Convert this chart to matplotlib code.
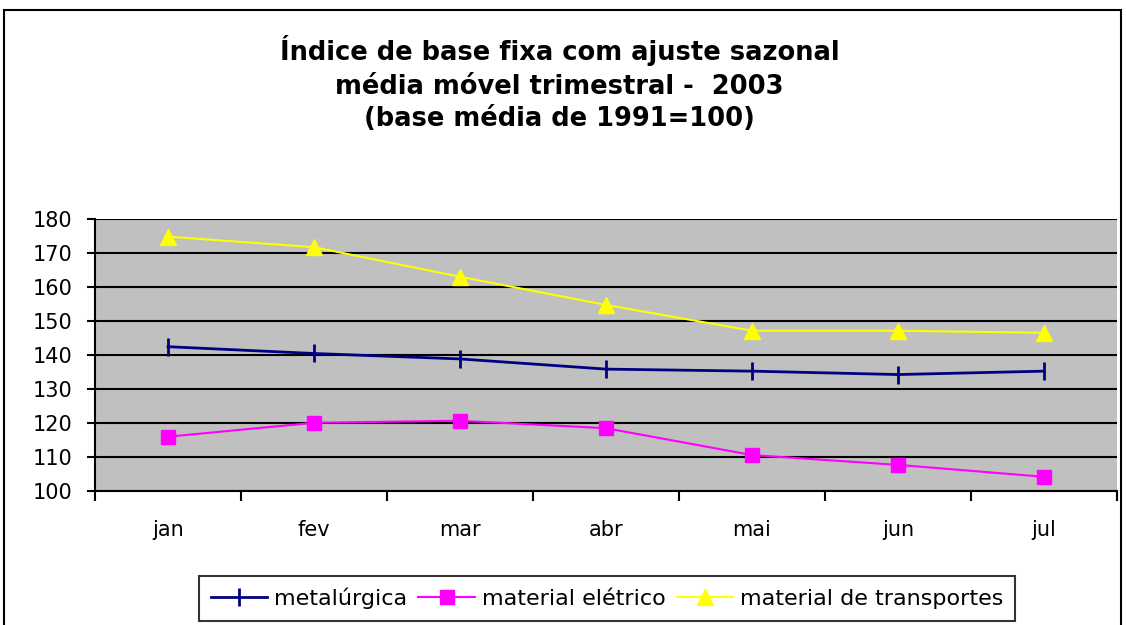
import matplotlib
matplotlib.use("Agg")
from matplotlib import pyplot as plt
from matplotlib.patches import Rectangle
import numpy as np

plt.rcParams['font.family'] = ['DejaVu Sans']

meses = ["jan", "fev", "mar", "abr", "mai", "jun", "jul"]
metalurgica = [142.4, 140.4, 138.8, 135.8, 135.2, 134.2, 135.2]
material_eletrico = [115.9, 120.0, 120.6, 118.4, 110.5, 107.6, 104.1]
material_transportes = [174.8, 171.7, 163.0, 154.7, 147.1, 147.1, 146.5]

fig = plt.figure(figsize=(11.26, 6.25), dpi=100)

# outer chart border
fig.patches.append(Rectangle((4 / 1126, -0.05), 1117 / 1126, 1 - 10 / 625 + 0.05,
                             transform=fig.transFigure, fill=False,
                             edgecolor="black", linewidth=1.5))

ax = fig.add_axes([95 / 1126, 1 - 490.7 / 625, 1022 / 1126, (490.7 - 219) / 625])
ax.set_facecolor("#C0C0C0")

x = np.arange(len(meses))
ax.plot(x, metalurgica, color="#000080", marker="|", markersize=13,
        markeredgewidth=2, linewidth=2, label="metalúrgica")
ax.plot(x, material_eletrico, color="#FF00FF", marker="s", markersize=10,
        linewidth=1.5, label="material elétrico")
ax.plot(x, material_transportes, color="#FFFF00", marker="^", markersize=11,
        linewidth=1.5, label="material de transportes")

ax.set_xlim(-0.5, len(meses) - 0.5)
ax.set_ylim(100, 180)
ax.set_yticks(range(100, 181, 10))
ax.yaxis.grid(True, color="black", linewidth=1.5)
ax.set_axisbelow(True)

ax.set_xticks(np.arange(-0.5, len(meses)), labels=[])
ax.set_xticks(x, labels=meses, minor=True)
ax.tick_params(axis="x", which="major", length=7, width=1.5, direction="out")
ax.tick_params(axis="x", which="minor", length=0, pad=21, labelsize=15)
ax.tick_params(axis="y", length=6, width=1.5, pad=10, labelsize=15)

for side in ["top", "right"]:
    ax.spines[side].set_visible(False)
for side in ["left", "bottom"]:
    ax.spines[side].set_linewidth(1.5)

fig.text(0.497, 1 - 84 / 625,
         "Índice de base fixa com ajuste sazonal\nmédia móvel trimestral -  2003\n(base média de 1991=100)",
         ha="center", va="center", fontsize=18.5, fontweight="bold", linespacing=1.35)

leg = fig.legend(loc="center", bbox_to_anchor=(607 / 1126, 1 - 598.5 / 625), ncol=3,
                 fontsize=16, frameon=True, fancybox=False, edgecolor="black",
                 handlelength=2.55, handletextpad=0.3, columnspacing=0.5,
                 borderpad=0.55)
leg.get_frame().set_linewidth(1.5)

fig.savefig("out.png", dpi=100)
